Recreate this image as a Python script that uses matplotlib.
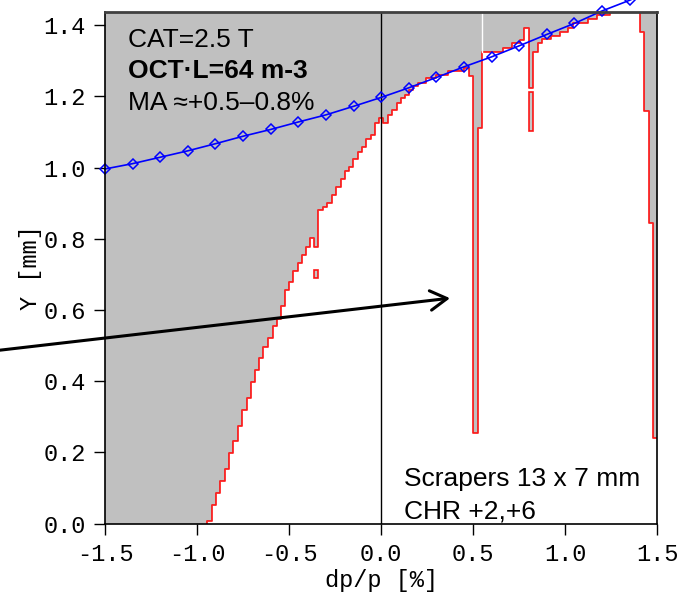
import numpy as np
import matplotlib.pyplot as plt
from matplotlib.patches import Rectangle

# aperture boundary: left edge of each dp bin and the white/grey limit in Y
edge_dp = [-0.944, -0.920, -0.897, -0.874, -0.848, -0.826, -0.803, -0.779,
           -0.757, -0.730, -0.709, -0.685, -0.662, -0.640, -0.616, -0.589,
           -0.567, -0.544, -0.522, -0.501, -0.477, -0.453, -0.432, -0.410,
           -0.386, -0.363, -0.341, -0.314, -0.293, -0.269, -0.245, -0.220,
           -0.196, -0.173, -0.151, -0.127, -0.106, -0.082, -0.057, -0.033,
           -0.010, 0.012, 0.036, 0.059, 0.084, 0.108, 0.131, 0.153, 0.175,
           0.199, 0.244, 0.298, 0.361, 0.452, 0.476, 0.500, 0.524, 0.549,
           0.664, 0.709, 0.754, 0.778, 0.803, 0.826, 0.850, 0.875, 0.921,
           0.971, 1.017, 1.044, 1.125, 1.171, 1.243, 1.406, 1.429, 1.455,
           1.478]
edge_y = [0.008, 0.052, 0.087, 0.119, 0.152, 0.197, 0.232, 0.275,
          0.319, 0.353, 0.398, 0.431, 0.466, 0.497, 0.522, 0.555,
          0.574, 0.612, 0.656, 0.678, 0.710, 0.733, 0.754, 0.778,
          0.801, 0.778, 0.881, 0.890, 0.901, 0.923, 0.946, 0.968,
          0.990, 1.001, 1.023, 1.044, 1.057, 1.079, 1.091, 1.124,
          1.138, 1.124, 1.147, 1.163, 1.182, 1.194, 1.204, 1.218, 1.229,
          1.238, 1.251, 1.260, 1.271, 1.279, 1.257, 0.255, 1.110, 1.325,
          1.337, 1.349, 1.358, 1.393, 1.224, 1.325, 1.349, 1.360, 1.370,
          1.381, 1.393, 1.405, 1.416, 1.428, 1.600, 1.381, 1.160, 0.845,
          0.241]
dp_max = 1.5

# small grey islands inside the white area
isl_dp0 = [-0.363, 0.803]
isl_dp1 = [-0.341, 0.826]
isl_y0 = [0.689, 1.103]
isl_y1 = [0.712, 1.213]
seam_dp = 0.549

# blue curve
blue_dp = [-1.5, -1.35, -1.2, -1.05, -0.9, -0.75, -0.6, -0.45, -0.3, -0.15,
           0.0, 0.15, 0.3, 0.45, 0.6, 0.75, 0.9, 1.05, 1.2, 1.35, 1.5]
blue_y = [0.996, 1.011, 1.029, 1.047, 1.067, 1.088, 1.107, 1.128, 1.148, 1.172,
          1.197, 1.224, 1.253, 1.283, 1.311, 1.342, 1.374, 1.405, 1.440, 1.470,
          1.505]

# arrow (tail outside the axes, head inside)
arrow_from = (-2.07, 0.487)
arrow_to = (0.374, 0.633)

xticks = [-1.5, -1.0, -0.5, 0.0, 0.5, 1.0, 1.5]
yticks = [0.0, 0.2, 0.4, 0.6, 0.8, 1.0, 1.2, 1.4]

grey = '#c0c0c0'
mono = 'Liberation Mono'
sans = ['Liberation Sans', 'DejaVu Sans']

fig = plt.figure(figsize=(6.86, 5.96), dpi=100)
ax = fig.add_axes([0.1531, 0.1216, 0.8051, 0.8583])

edges = np.array(edge_dp + [dp_max])
hh = np.array(edge_y + [edge_y[-1]])
ax.fill_between(np.r_[-1.5, edges], np.r_[0.0, hh], 2.0, step='post',
                color=grey, lw=0, zorder=1)
ax.step(np.r_[edges[0], edges], np.r_[0.0, hh], where='post',
        color='red', lw=1.3, alpha=0.85, zorder=2)

for a, b, c, d in zip(isl_dp0, isl_dp1, isl_y0, isl_y1):
    ax.add_patch(Rectangle((a, c), b - a, d - c, fc=grey, ec='red',
                           lw=1.2, alpha=0.9, zorder=2))

k = edge_dp.index(seam_dp)
ax.plot([seam_dp, seam_dp], [edge_y[k], 2.0], color='white', lw=1, zorder=2)

ax.axvline(0.0, color='black', lw=1, zorder=3)

ax.plot(blue_dp, blue_y, color='blue', lw=1.2, marker='D', ms=5,
        mfc='none', mew=1.1, clip_on=False, zorder=4)

ax.annotate('', xy=arrow_to, xytext=arrow_from, annotation_clip=False,
            arrowprops=dict(arrowstyle='->,head_length=0.6,head_width=0.35',
                            lw=2.2, color='black', mutation_scale=20,
                            shrinkA=0, shrinkB=0), zorder=5)

ax.set_xlim(-1.5, 1.5)
ax.set_ylim(0, 1.437)
ax.set_xticks(xticks)
ax.set_xticklabels(['%.1f' % v for v in xticks], family=mono)
ax.set_yticks(yticks)
ax.set_yticklabels(['%.1f' % v for v in yticks], family=mono)
ax.tick_params(direction='out', length=8, width=1, labelsize=17, pad=6)
ax.set_xlabel('dp/p [%]', family=mono, fontsize=17, labelpad=2)
ax.set_ylabel('Y [mm]', family=mono, fontsize=17, labelpad=1)
for s in ax.spines.values():
    s.set_linewidth(1.2)
    s.set_zorder(6)
ax.spines['top'].set_color('#404040')
ax.spines['top'].set_linewidth(2)

tx = 0.042
ax.text(tx, 0.932, 'CAT=2.5 T', transform=ax.transAxes, family=sans,
        fontsize=19, va='baseline')
ax.text(tx, 0.870, 'OCT\u00b7L=64 m-3', transform=ax.transAxes, family=sans,
        fontsize=19, fontweight='bold', va='baseline')
ax.text(tx, 0.808, 'MA \u2248+0.5\u20130.8%', transform=ax.transAxes,
        family=sans, fontsize=19, va='baseline')
ax.text(0.541, 0.0733, 'Scrapers 13 x 7 mm', transform=ax.transAxes,
        family=sans, fontsize=19, va='baseline')
ax.text(0.541, 0.0108, 'CHR +2,+6', transform=ax.transAxes,
        family=sans, fontsize=19, va='baseline')

fig.savefig('out.png', dpi=100)
